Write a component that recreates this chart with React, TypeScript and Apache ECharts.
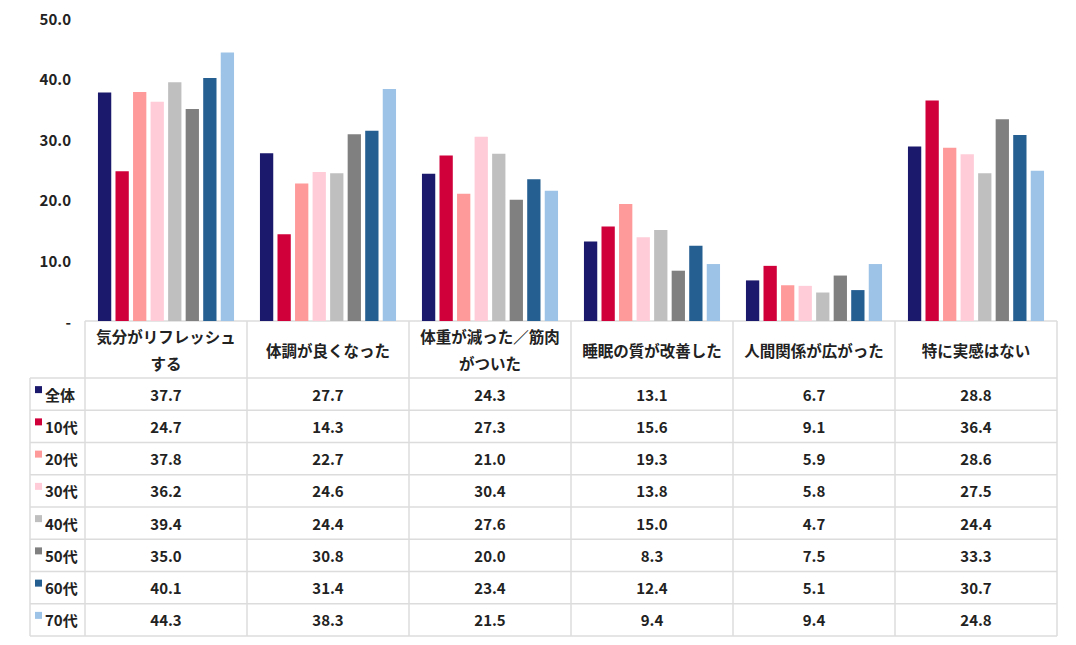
import React, { useEffect, useRef } from "react";
import * as echarts from "echarts";

const categories = [
  "気分がリフレッシュ\nする",
  "体調が良くなった",
  "体重が減った／筋肉\nがついた",
  "睡眠の質が改善した",
  "人間関係が広がった",
  "特に実感はない",
];
const seriesNames = ["全体", "10代", "20代", "30代", "40代", "50代", "60代", "70代"];
const colors = ["#1B196B", "#D0003A", "#FF9A9A", "#FFCCD8", "#BFBFBF", "#808080", "#255E91", "#9DC3E6"];
const s全体 = [37.7, 27.7, 24.3, 13.1, 6.7, 28.8];
const s10 = [24.7, 14.3, 27.3, 15.6, 9.1, 36.4];
const s20 = [37.8, 22.7, 21.0, 19.3, 5.9, 28.6];
const s30 = [36.2, 24.6, 30.4, 13.8, 5.8, 27.5];
const s40 = [39.4, 24.4, 27.6, 15.0, 4.7, 24.4];
const s50 = [35.0, 30.8, 20.0, 8.3, 7.5, 33.3];
const s60 = [40.1, 31.4, 23.4, 12.4, 5.1, 30.7];
const s70 = [44.3, 38.3, 21.5, 9.4, 9.4, 24.8];
const seriesValues = [s全体, s10, s20, s30, s40, s50, s60, s70];
const yTicks = [0, 10, 20, 30, 40, 50];

const FONT = '"Noto Sans CJK JP", "Noto Sans", sans-serif';

export default function App() {
  const ref = useRef<HTMLDivElement>(null);
  useEffect(() => {
    document.body.style.margin = "0";
    if (!ref.current) return;
    const chart = echarts.init(ref.current, null, { renderer: "svg" });

    const gridLeft = 85;
    const gridRight = 1057;
    const gridTop = 18;
    const gridBottom = 321;
    const colW = (gridRight - gridLeft) / categories.length;
    const headerBottom = 378;
    const rowH = 32.25;
    const tableLeft = 30;
    const tableBottom = headerBottom + rowH * seriesNames.length;
    const lineColor = "#DCDCDC";
    const lw = 1.5;

    const graphics: any[] = [];
    graphics.push({
      type: "line",
      shape: { x1: gridLeft, y1: gridBottom, x2: gridRight, y2: gridBottom },
      style: { stroke: lineColor, lineWidth: lw },
    });
    for (let i = 0; i <= seriesNames.length; i++) {
      const y = headerBottom + i * rowH;
      graphics.push({
        type: "line",
        shape: { x1: tableLeft, y1: y, x2: gridRight, y2: y },
        style: { stroke: lineColor, lineWidth: lw },
      });
    }
    graphics.push({
      type: "line",
      shape: { x1: tableLeft, y1: headerBottom, x2: tableLeft, y2: tableBottom },
      style: { stroke: lineColor, lineWidth: lw },
    });
    for (let c = 0; c <= categories.length; c++) {
      const x = gridLeft + c * colW;
      graphics.push({
        type: "line",
        shape: { x1: x, y1: gridBottom, x2: x, y2: tableBottom },
        style: { stroke: lineColor, lineWidth: lw },
      });
    }
    categories.forEach((cat, c) => {
      graphics.push({
        type: "text",
        x: gridLeft + (c + 0.5) * colW,
        y: (gridBottom + headerBottom) / 2,
        style: {
          text: cat,
          fill: "#222",
          fontSize: 15.5,
          fontFamily: FONT,
          fontWeight: "bold",
          align: "center",
          verticalAlign: "middle",
          lineHeight: 27,
        },
      });
    });
    seriesNames.forEach((name, r) => {
      const yc = headerBottom + (r + 0.5) * rowH;
      graphics.push({
        type: "rect",
        shape: { x: 35, y: yc - 8, width: 7, height: 7 },
        style: { fill: colors[r] },
      });
      graphics.push({
        type: "text",
        x: 45,
        y: yc,
        style: {
          text: name,
          fill: "#222",
          fontSize: 15,
          fontFamily: FONT,
          fontWeight: "bold",
          align: "left",
          verticalAlign: "middle",
        },
      });
      seriesValues[r].forEach((v, c) => {
        graphics.push({
          type: "text",
          x: gridLeft + (c + 0.5) * colW,
          y: yc,
          style: {
            text: v.toFixed(1),
            fill: "#222",
            fontSize: 15,
            fontFamily: FONT,
            fontWeight: "bold",
            align: "center",
            verticalAlign: "middle",
          },
        });
      });
    });

    chart.setOption({
      animation: false,
      backgroundColor: "#fff",
      grid: { left: gridLeft, right: 1076 - gridRight, top: gridTop, bottom: 645 - gridBottom },
      xAxis: {
        type: "category",
        data: categories,
        axisLine: { show: false },
        axisTick: { show: false },
        axisLabel: { show: false },
      },
      yAxis: {
        type: "value",
        min: yTicks[0],
        max: yTicks[yTicks.length - 1],
        interval: 10,
        axisLine: { show: false },
        axisTick: { show: false },
        splitLine: { show: false },
        axisLabel: {
          margin: 14,
          color: "#222",
          fontSize: 15,
          fontFamily: FONT,
          fontWeight: "bold",
          formatter: (v: number) => (v === 0 ? "-" : v.toFixed(1)),
        },
      },
      series: seriesNames.map((name, i) => ({
        name,
        type: "bar",
        data: seriesValues[i],
        barGap: "32%",
        barCategoryGap: "16%",
        itemStyle: { color: colors[i] },
      })),
      graphic: graphics,
    });
    return () => chart.dispose();
  }, []);
  return <div ref={ref} style={{ width: 1076, height: 645 }} />;
}
